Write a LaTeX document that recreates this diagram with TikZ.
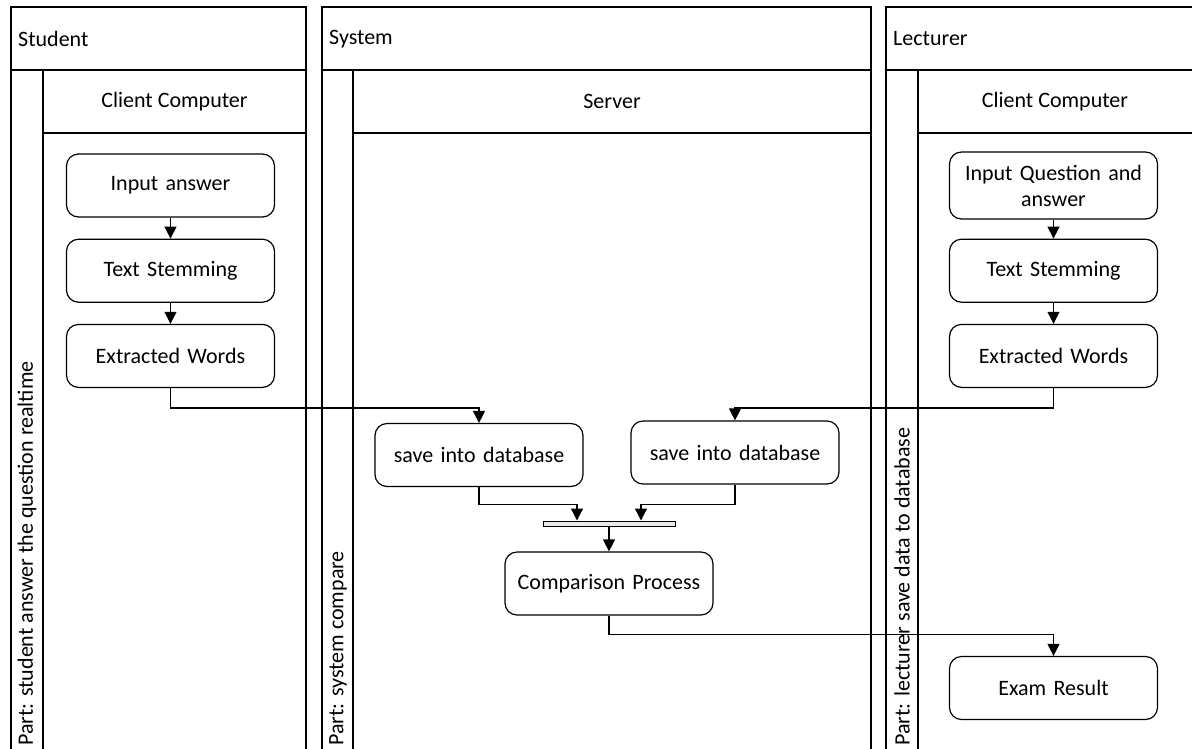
\documentclass[tikz,border=0pt]{standalone}
\usepackage{fontspec}
\setmainfont{Carlito}
\usetikzlibrary{arrows.meta,positioning}

\begin{document}
\begin{tikzpicture}[
  x=1pt, y=-1pt,
  node distance=21pt and 21pt,
  lane/.style={draw, line width=1.4pt},
  lanetitle/.style={anchor=west, inner sep=0pt, font=\fontsize{22}{26}\selectfont},
  subtitle/.style={inner sep=0pt, font=\fontsize{22}{26}\selectfont},
  parttext/.style={rotate=90, anchor=west, inner sep=0pt, font=\fontsize{22}{26}\selectfont},
  actbox/.style={draw, rounded corners=12pt, line width=1.2pt, minimum width=208pt,
    minimum height=63pt, text width=200pt, align=center, inner sep=2pt,
    font=\fontsize{22}{26}\selectfont},
  joinbar/.style={draw, line width=1pt, fill=blue!8!gray!15, minimum width=132pt,
    minimum height=5pt, inner sep=0pt},
  flow/.style={-{Triangle[length=12pt,width=12pt]}, line width=1.2pt}
]
\useasboundingbox (0,0) rectangle (1192,748);
\clip (0,0) rectangle (1192,748);

% swimlanes
\draw[lane] (11,7) rectangle (306,760);
\draw[lane] (11,70) -- (306,70) (43,70) -- (43,760) (43,133) -- (306,133);
\draw[lane] (322,7) rectangle (871,760);
\draw[lane] (322,70) -- (871,70) (353,70) -- (353,760) (353,133) -- (871,133);
\draw[lane] (886,7) rectangle (1194,760);
\draw[lane] (886,70) -- (1194,70) (918,70) -- (918,760) (918,133) -- (1194,133);

\node[lanetitle] (tstu) at (18,39) {Student};
\node[lanetitle] (tsys) at (329,39) {System};
\node[lanetitle] (tlec) at (893,39) {Lecturer};
\node[subtitle] (cstu) at (174.5,101.5) {Client Computer};
\node[subtitle] (csrv) at (612,101.5) {Server};
\node[subtitle] (clec) at (1055,101.5) {Client Computer};
\node[parttext] (pstu) at (27,746) {Part: student answer the question realtime};
\node[parttext] (psys) at (338,746) {Part: system compare};
\node[parttext] (plec) at (902,746) {Part: lecturer save data to database};

% student side
\node[actbox] (sinp) at (170.5,185.5) {Input answer};
\node[actbox, below=of sinp] (sstem) {Text Stemming};
\node[actbox, below=of sstem] (sext) {Extracted Words};

% lecturer side
\node[actbox, minimum height=67pt] (linp) at (1053.5,185.5) {Input Question and\\answer};
\node[actbox, below=19pt of linp] (lstem) {Text Stemming};
\node[actbox, below=of lstem] (lext) {Extracted Words};
\node[actbox] (exam) at (1053.5,688) {Exam Result};

% server side
\node[actbox] (sav1) at (479,455) {save into database};
\node[actbox] (sav2) at (735,452.5) {save into database};
\node[joinbar] (join) at (609,523.5) {};
\node[actbox] (comp) at (609,583.5) {Comparison Process};

\draw[flow] (sinp) -- (sstem);
\draw[flow] (sstem) -- (sext);
\draw[flow] (linp) -- (lstem);
\draw[flow] (lstem) -- (lext);
\draw[flow] (sext.south) -- ++(0,20) -| (sav1.north);
\draw[flow] (lext.south) -- ++(0,20) -| (sav2.north);
\draw[flow] (sav1.south) -- ++(0,17) -| ([xshift=-32pt]join.north);
\draw[flow] (sav2.south) -- ++(0,20) -| ([xshift=32pt]join.north);
\draw[flow] (join) -- (comp);
\draw[flow] (comp.south) -- ++(0,19) -| (exam.north);
\end{tikzpicture}
\end{document}
